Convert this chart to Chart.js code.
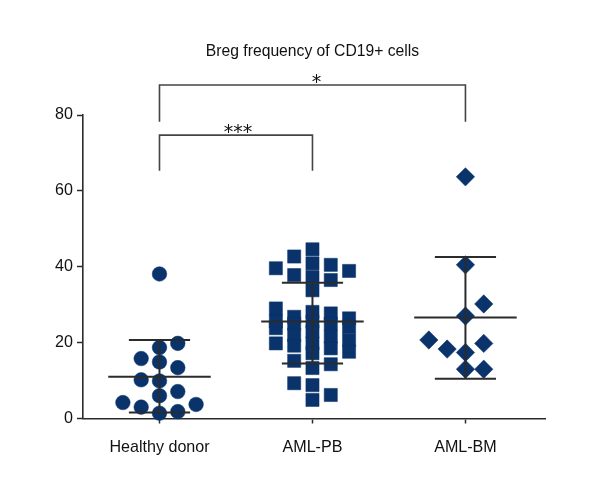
<!DOCTYPE html>
<html>
<head>
<meta charset="utf-8">
<script src="https://cdn.jsdelivr.net/npm/chart.js@4.4.1/dist/chart.umd.min.js"></script>
<style>html,body{margin:0;padding:0;background:#fff}</style>
</head>
<body>
<div style="width:600px;height:500px"><canvas id="c" width="600" height="500"></canvas></div>
<script>
// ---------------- data ----------------
const chartTitle = 'Breg frequency of CD19+ cells';
const categories = ['Healthy donor', 'AML-PB', 'AML-BM'];
const healthyDonor = [38.1, 19.8, 18.7, 15.8, 14.9, 13.4, 10.2, 9.9, 7.1, 6.0, 4.2, 3.7, 3.0, 1.8, 1.4];
const amlPB = [44.6, 42.7, 40.9, 40.5, 39.6, 38.9, 37.8, 37.3, 36.5, 33.8, 29.0, 28.1, 27.7, 26.8,
               26.4, 25.6, 25.5, 25.0, 25.0, 24.2, 23.8, 22.9, 22.0, 21.6, 20.7, 19.8, 19.8, 19.2,
               18.5, 17.6, 17.2, 15.2, 14.3, 13.3, 9.3, 8.8, 6.2, 4.9];
const amlBM = [63.7, 40.5, 30.2, 27.0, 20.7, 19.8, 18.3, 17.4, 13.0, 13.0];
const meanValues = [11.0, 25.6, 26.6];
const sdUpper = [20.7, 35.8, 42.6];
const sdLower = [1.6, 14.5, 10.5];
const yTicks = [0, 20, 40, 60, 80];
const compareFrom = [0, 0];
const compareTo = [1, 2];
const compareLabels = ['***', '*'];

// ---------------- fonts (pick a condensed face if the system has one) ----------------
const mctx = document.createElement('canvas').getContext('2d');
function widthOf(font, text) { mctx.font = font; return mctx.measureText(text).width; }
let FAMILY = "'Liberation Sans', Arial, sans-serif", STRETCH = 'normal';
{
  const nN = widthOf("20px 'Noto Sans'", 'Healthy donor');
  const nC = widthOf("condensed 20px 'Noto Sans'", 'Healthy donor');
  if (nC < nN * 0.92) { FAMILY = "'Noto Sans'"; STRETCH = 'condensed'; }
}
const LABEL_SIZE = Math.round(20 * 100 / widthOf(`${STRETCH} 20px ${FAMILY}`, 'Healthy donor') * 10) / 10;
const TITLE_SIZE = Math.round(20 * 214 / widthOf(`${STRETCH} 20px ${FAMILY}`, chartTitle) * 10) / 10;
const FONT_W = STRETCH === 'condensed' ? 'condensed' : undefined;

// ---------------- layout / style ----------------
const NAVY = '#09336a';
const LINE = '#2b2b2b';
const TEXT = '#111111';
const groups = [healthyDonor, amlPB, amlBM];
const shapes = ['circle', 'rect', 'rectRot'];
const radii = [7.3, 9.3, 9.2];
const minDist = [14, 13, 14];
const slotPx = 18.3;
const meanHalf = 0.335, sdHalf = 0.2;
const bracketTop = [74.7, 87.9];
const bracketBottom = [65.3, 78.2];

const errData = [];
groups.forEach((_, i) => {
  errData.push({x: i - sdHalf, y: sdUpper[i]}, {x: i + sdHalf, y: sdUpper[i]}, {x: i, y: null},
               {x: i, y: sdUpper[i]}, {x: i, y: sdLower[i]}, {x: i, y: null},
               {x: i - sdHalf, y: sdLower[i]}, {x: i + sdHalf, y: sdLower[i]}, {x: i, y: null},
               {x: i - meanHalf, y: meanValues[i]}, {x: i + meanHalf, y: meanValues[i]}, {x: i, y: null});
});

const bracketSets = compareFrom.map((f, k) => ({
  type: 'line',
  data: [{x: f, y: bracketBottom[k]}, {x: f, y: bracketTop[k]}, {x: compareTo[k], y: bracketTop[k]}, {x: compareTo[k], y: bracketBottom[k]}],
  borderColor: '#444', borderWidth: 1.6, pointRadius: 0, fill: false, clip: false, order: 0
}));

const scatterSets = groups.map((vals, i) => ({
  type: 'scatter',
  data: vals.map(v => ({x: i, y: v})),
  pointStyle: shapes[i], pointRadius: radii[i], pointHoverRadius: radii[i],
  backgroundColor: NAVY, borderColor: NAVY, borderWidth: 0.5, order: 2, clip: false
}));

const textPlugin = {
  id: 'texts',
  afterDraw(chart) {
    const {ctx, scales: {x, y}} = chart;
    ctx.save();
    ctx.fillStyle = TEXT;
    ctx.textAlign = 'center';
    ctx.textBaseline = 'middle';
    ctx.font = `${STRETCH} ${TITLE_SIZE}px ${FAMILY}`;
    ctx.fillText(chartTitle, x.getPixelForValue(1), 52);
    ctx.font = "19px 'DejaVu Sans', sans-serif";
    ctx.textBaseline = 'alphabetic';
    compareLabels.forEach((lab, k) => {
      const cx = (x.getPixelForValue(compareFrom[k]) + x.getPixelForValue(compareTo[k])) / 2;
      ctx.fillText(lab, cx + (lab.length === 1 ? 4 : 2), y.getPixelForValue(bracketTop[k]) + 3);
    });
    ctx.restore();
  }
};

const tickFont = {family: FAMILY, size: LABEL_SIZE, weight: FONT_W};

const chart = new Chart(document.getElementById('c'), {
  data: {
    datasets: [
      {type: 'line', data: errData, borderColor: LINE, borderWidth: 2, pointRadius: 0, spanGaps: false, fill: false, order: 0},
      ...bracketSets,
      ...scatterSets
    ]
  },
  options: {
    responsive: false, animation: false, devicePixelRatio: 1,
    layout: {padding: {top: 115, right: 55, left: 0, bottom: 0}},
    plugins: {legend: {display: false}, tooltip: {enabled: false}, title: {display: false}},
    scales: {
      x: {
        type: 'linear', min: -0.5, max: 2.52,
        afterBuildTicks: s => { s.ticks = categories.map((_, i) => ({value: i})); },
        afterFit: s => { s.height = 81.5; },
        ticks: {callback: v => categories[v], color: TEXT, font: tickFont, padding: 14, autoSkip: false, maxRotation: 0},
        grid: {display: true, drawOnChartArea: false, drawTicks: true, tickLength: 5, color: LINE, tickWidth: 1.5},
        border: {display: true, color: LINE, width: 1.6}
      },
      y: {
        type: 'linear', min: 0, max: 80,
        afterBuildTicks: s => { s.ticks = yTicks.map(v => ({value: v})); },
        afterFit: s => { s.width = 83; },
        ticks: {color: TEXT, font: tickFont, padding: 4},
        grid: {display: true, drawOnChartArea: false, drawTicks: true, tickLength: 6, color: LINE, tickWidth: 1.5},
        border: {display: true, color: LINE, width: 1.6}
      }
    }
  },
  plugins: [textPlugin]
});

// beeswarm-style horizontal spreading of the points, in pixel space
function beeswarm(vals, yPix, minD, maxSlot) {
  const idx = vals.map((_, k) => k).sort((a, b) => vals[a] - vals[b]);
  const cols = {};
  const slot = new Array(vals.length).fill(0);
  let flip = 1;
  idx.forEach(k => {
    const py = yPix(vals[k]);
    const cand = [0];
    for (let m = 1; m <= maxSlot; m++) cand.push(flip * m, -flip * m);
    let best = 0, bestClear = -1;
    for (const s of cand) {
      const arr = cols[s] || [];
      let clear = Infinity;
      for (const q of arr) clear = Math.min(clear, Math.abs(q - py));
      if (clear >= minD) { best = s; bestClear = clear; break; }
      if (clear > bestClear) { bestClear = clear; best = s; }
    }
    (cols[best] = cols[best] || []).push(py);
    slot[k] = best;
    if (best !== 0) flip = -Math.sign(best);
  });
  return slot;
}

const xs = chart.scales.x, ys = chart.scales.y;
const unit = xs.getPixelForValue(1) - xs.getPixelForValue(0);
groups.forEach((vals, i) => {
  const slots = beeswarm(vals, v => ys.getPixelForValue(v), minDist[i], 2);
  chart.data.datasets[3 + i].data = vals.map((v, k) => ({x: i + slots[k] * slotPx / unit, y: v}));
});
chart.update('none');
</script>
</body>
</html>
